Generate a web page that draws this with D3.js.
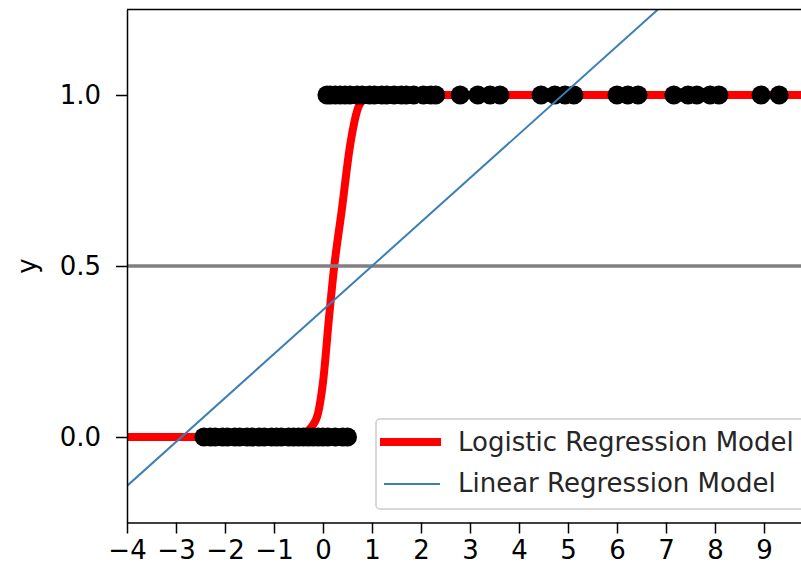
<html lang="en">
<head>
<meta charset="utf-8">
<style type="text/css">
    body { margin: 0; background: #fff; }
    svg { display: block; font-family: "DejaVu Sans", sans-serif; }
    .axis path, .axis line { stroke: #000; stroke-width: 1.5px; }
    .axis text { font-size: 26px; fill: #000; font-family: "DejaVu Sans", sans-serif; }
</style>
</head>
<body>
<svg width="801" height="570"></svg>
<script src="https://d3js.org/d3.v7.min.js"></script>
<script type="text/javascript">
    // data
    var zeroX = [-2.43, -2.3, -2.2, -2.05, -1.95, -1.8, -1.7, -1.55, -1.45, -1.3, -1.2, -1.05,
                 -0.95, -0.85, -0.7, -0.6, -0.5, -0.4, -0.3, -0.2, -0.1, 0.0, 0.1, 0.25, 0.4, 0.5];
    var oneX = [0.08, 0.15, 0.25, 0.35, 0.45, 0.55, 0.7, 0.8, 0.95, 1.05, 1.2, 1.3, 1.45, 1.6,
                1.7, 1.85, 2.05, 2.2, 2.3, 2.8, 3.16, 3.41, 3.61, 4.45, 4.73, 4.94, 5.12,
                6.0, 6.22, 6.43, 7.16, 7.45, 7.63, 7.9, 8.08, 8.94, 9.31];
    var logisticX = [-4, -0.8, -0.55, -0.41, -0.23, -0.10, 0.0, 0.13, 0.23, 0.38, 0.55, 0.71, 0.85, 1.05, 10];
    var logisticY = [0, 0, 0.003, 0.01, 0.03, 0.07, 0.16, 0.36, 0.50, 0.66, 0.85, 0.96, 0.99, 1.0, 1.0];
    var linearX = [-4, 10];
    var linearY = [-0.143, 1.657];
    var threshold = 0.5;
    var xTicks = [-4, -3, -2, -1, 0, 1, 2, 3, 4, 5, 6, 7, 8, 9];
    var yTicks = [0, 0.5, 1.0];
    var legendLabels = ["Logistic Regression Model", "Linear Regression Model"];

    var svg = d3.select("svg"),
        pLeft = 127, pRight = 813, pTop = 9.5, pBottom = 522.5;

    var x = d3.scaleLinear().domain([-4, 10]).range([pLeft, pRight]);
    var y = d3.scaleLinear().domain([-0.25, 1.25]).range([pBottom, pTop]);

    svg.append("defs").append("clipPath").attr("id", "plot")
        .append("rect")
        .attr("x", pLeft).attr("y", pTop)
        .attr("width", pRight - pLeft).attr("height", pBottom - pTop);

    var plot = svg.append("g").attr("clip-path", "url(#plot)");

    var line = d3.line().x(function (d) { return x(d[0]); }).y(function (d) { return y(d[1]); });

    // logistic curve
    plot.append("path")
        .datum(d3.zip(logisticX, logisticY))
        .attr("d", line.curve(d3.curveMonotoneX))
        .attr("fill", "none")
        .attr("stroke", "#ff0000")
        .attr("stroke-width", 8);

    // horizontal 0.5 line
    plot.append("line")
        .attr("x1", pLeft).attr("x2", pRight)
        .attr("y1", y(threshold)).attr("y2", y(threshold))
        .attr("stroke", "#808080")
        .attr("stroke-width", 3.5);

    // points
    var pts = zeroX.map(function (v) { return [v, 0]; })
        .concat(oneX.map(function (v) { return [v, 1]; }));
    plot.selectAll(".dot")
        .data(pts)
        .enter().append("circle")
        .attr("class", "dot")
        .attr("cx", function (d) { return x(d[0]); })
        .attr("cy", function (d) { return y(d[1]); })
        .attr("r", 9.5)
        .attr("fill", "#000");

    // linear fit
    plot.append("path")
        .datum(d3.zip(linearX, linearY))
        .attr("d", d3.line().x(function (d) { return x(d[0]); }).y(function (d) { return y(d[1]); }))
        .attr("fill", "none")
        .attr("stroke", "#3b7fb6")
        .attr("stroke-width", 2);

    var minus = function (d) { return d < 0 ? "\u2212" + Math.abs(d) : d; };

    svg.append("g")
        .attr("class", "axis")
        .attr("transform", "translate(0," + pBottom + ")")
        .call(d3.axisBottom(x).tickValues(xTicks).tickFormat(minus).tickSize(11).tickSizeOuter(0).tickPadding(7));

    svg.append("g")
        .attr("class", "axis")
        .attr("transform", "translate(" + pLeft + ",0)")
        .call(d3.axisLeft(y).tickValues(yTicks).tickFormat(d3.format(".1f")).tickSize(11).tickSizeOuter(0).tickPadding(15));

    // top spine
    svg.append("line")
        .attr("x1", pLeft).attr("x2", pRight)
        .attr("y1", pTop).attr("y2", pTop)
        .attr("stroke", "#000").attr("stroke-width", 1.5);

    svg.append("text")
        .attr("transform", "translate(36," + y(0.5) + ") rotate(-90)")
        .attr("text-anchor", "middle")
        .attr("font-size", 26)
        .text("y");

    // legend
    var lg = svg.append("g");
    lg.append("rect")
        .attr("x", 376).attr("y", 419)
        .attr("width", 450).attr("height", 90)
        .attr("rx", 4)
        .attr("fill", "#fff").attr("fill-opacity", 0.8)
        .attr("stroke", "#cccccc").attr("stroke-width", 1.5);
    lg.append("line")
        .attr("x1", 380).attr("x2", 441).attr("y1", 442).attr("y2", 442)
        .attr("stroke", "#ff0000").attr("stroke-width", 8);
    lg.append("line")
        .attr("x1", 384).attr("x2", 440).attr("y1", 484).attr("y2", 484)
        .attr("stroke", "#3b7fb6").attr("stroke-width", 2);
    lg.selectAll(".lbl")
        .data(legendLabels)
        .enter().append("text")
        .attr("x", 458)
        .attr("y", function (d, i) { return 451 + i * 41; })
        .attr("font-size", 26)
        .attr("fill", "#262626")
        .text(function (d) { return d; });
</script>
</body>
</html>
